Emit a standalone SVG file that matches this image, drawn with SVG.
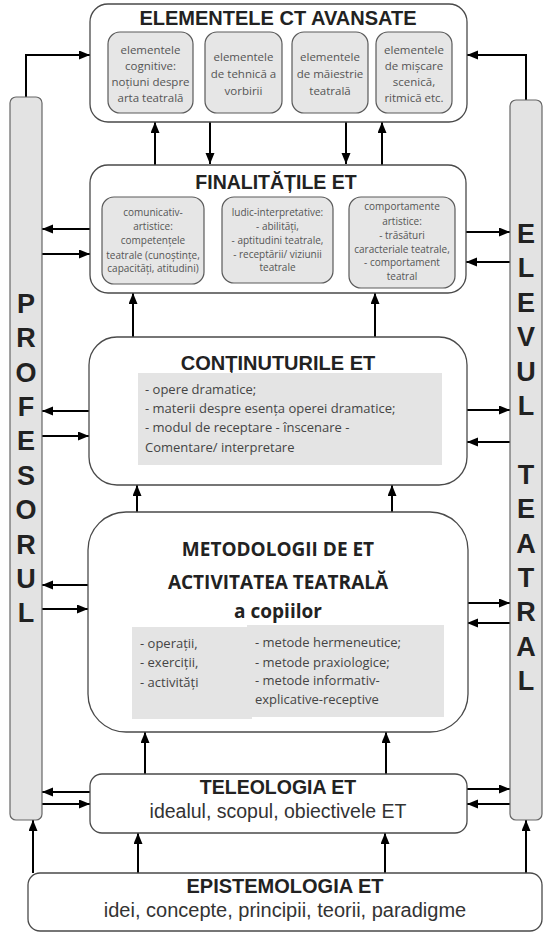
<svg xmlns="http://www.w3.org/2000/svg" width="546" height="933" viewBox="0 0 546 933">
<style>
.box{fill:#fff;stroke:#4a4a4a;stroke-width:1.3}
.ibox{fill:#e6e6e6;stroke:#5a5a5a;stroke-width:1.2}
.bar{fill:#e3e3e3;stroke:#666;stroke-width:1.2}
.gray{fill:#e4e4e4}
.ttl{font-family:"Liberation Sans",Arial,sans-serif;font-weight:bold;fill:#222;text-anchor:middle}
.sub{font-family:"Liberation Sans",Arial,sans-serif;fill:#333;text-anchor:middle}
.sm{font-family:"Open Sans","Noto Sans",sans-serif;fill:#555;text-anchor:middle}
.txt{font-family:"Open Sans","Noto Sans",sans-serif;fill:#444;font-size:13px}
.ob{font-family:"Open Sans","Noto Sans",sans-serif;font-weight:bold;fill:#222;text-anchor:middle;font-size:19px}
.let{font-family:"Liberation Sans",Arial,sans-serif;font-weight:bold;fill:#222;text-anchor:middle;font-size:27px}
.c{fill:none;stroke:#000;stroke-width:2}
.cs{fill:none;stroke:#000;stroke-width:1.5}
</style>
<defs>
<marker id="ah" markerUnits="userSpaceOnUse" markerWidth="12" markerHeight="10" refX="11" refY="4.5" orient="auto"><path d="M0,0 L11,4.5 L0,9 z" fill="#000"/></marker>
<marker id="as" markerUnits="userSpaceOnUse" markerWidth="10" markerHeight="8" refX="9" refY="3.5" orient="auto"><path d="M0,0 L9,3.5 L0,7 z" fill="#000"/></marker>
</defs>

<g id="connectors">
<path class="c" d="M26,97 V55 H90" marker-end="url(#ah)"/>
<path class="c" d="M526,100 V55 H467" marker-end="url(#ah)"/>
<path class="c" d="M155,165 V122" marker-end="url(#ah)"/>
<path class="c" d="M210,122 V164" marker-end="url(#ah)"/>
<path class="c" d="M346,122 V164" marker-end="url(#ah)"/>
<path class="c" d="M382,165 V122" marker-end="url(#ah)"/>
<path class="cs" d="M204,227 H222" marker-end="url(#as)"/>
<path class="cs" d="M222,240 H204" marker-end="url(#as)"/>
<path class="cs" d="M333,226 H349" marker-end="url(#as)"/>
<path class="cs" d="M349,241 H333" marker-end="url(#as)"/>
<path class="c" d="M133,337 V293" marker-end="url(#ah)"/>
<path class="c" d="M375,337 V293" marker-end="url(#ah)"/>
<path class="c" d="M137,512 V485" marker-end="url(#ah)"/>
<path class="c" d="M392,512 V485" marker-end="url(#ah)"/>
<path class="c" d="M145,774 V732" marker-end="url(#ah)"/>
<path class="c" d="M386,774 V732" marker-end="url(#ah)"/>
<path class="c" d="M33,873 V820" marker-end="url(#ah)"/>
<path class="c" d="M138,873 V833" marker-end="url(#ah)"/>
<path class="c" d="M385,873 V833" marker-end="url(#ah)"/>
<path class="c" d="M526,873 V820" marker-end="url(#ah)"/>
<path class="c" d="M90,229 H42" marker-end="url(#ah)"/>
<path class="c" d="M42,254 H90" marker-end="url(#ah)"/>
<path class="c" d="M90,411 H42" marker-end="url(#ah)"/>
<path class="c" d="M42,436 H89" marker-end="url(#ah)"/>
<path class="c" d="M89,585 H42" marker-end="url(#ah)"/>
<path class="c" d="M42,609 H88" marker-end="url(#ah)"/>
<path class="c" d="M90,792 H42" marker-end="url(#ah)"/>
<path class="c" d="M42,804 H90" marker-end="url(#ah)"/>
<path class="c" d="M466,232 H510" marker-end="url(#ah)"/>
<path class="c" d="M510,262 H466" marker-end="url(#ah)"/>
<path class="c" d="M467,410 H510" marker-end="url(#ah)"/>
<path class="c" d="M510,442 H467" marker-end="url(#ah)"/>
<path class="c" d="M467,603 H510" marker-end="url(#ah)"/>
<path class="c" d="M510,623 H467" marker-end="url(#ah)"/>
<path class="c" d="M467,789 H510" marker-end="url(#ah)"/>
<path class="c" d="M510,804 H467" marker-end="url(#ah)"/>
</g>

<g id="profesorul">
<rect class="bar" x="10" y="97" width="32" height="723" rx="6"/>
<text class="let" x="26" y="313">P</text>
<text class="let" x="26" y="347">R</text>
<text class="let" x="26" y="382">O</text>
<text class="let" x="26" y="416">F</text>
<text class="let" x="26" y="450">E</text>
<text class="let" x="26" y="485">S</text>
<text class="let" x="26" y="519">O</text>
<text class="let" x="26" y="554">R</text>
<text class="let" x="26" y="588">U</text>
<text class="let" x="26" y="622">L</text>
</g>

<g id="elevul">
<rect class="bar" x="510" y="100" width="32" height="720" rx="6"/>
<text class="let" x="526" y="243">E</text>
<text class="let" x="526" y="277">L</text>
<text class="let" x="526" y="312">E</text>
<text class="let" x="526" y="346">V</text>
<text class="let" x="526" y="381">U</text>
<text class="let" x="526" y="415">L</text>
<text class="let" x="526" y="484">T</text>
<text class="let" x="526" y="518">E</text>
<text class="let" x="526" y="553">A</text>
<text class="let" x="526" y="587">T</text>
<text class="let" x="526" y="621">R</text>
<text class="let" x="526" y="656">A</text>
<text class="let" x="526" y="690">L</text>
</g>

<g id="elementele">
<rect class="box" x="90" y="4" width="377" height="118" rx="18"/>
<text class="ttl" x="278" y="25" font-size="20">ELEMENTELE CT AVANSATE</text>
<rect class="ibox" x="108" y="32" width="85" height="81" rx="12"/>
<rect class="ibox" x="205" y="32" width="77" height="81" rx="12"/>
<rect class="ibox" x="292" y="32" width="76" height="81" rx="12"/>
<rect class="ibox" x="376" y="32" width="76" height="81" rx="12"/>
<g class="sm" font-size="11.5">
<text x="150.5" y="54">elementele</text>
<text x="150.5" y="70">cognitive:</text>
<text x="150.5" y="86">noțiuni despre</text>
<text x="150.5" y="102">arta teatrală</text>
<text x="243.5" y="61">elementele</text>
<text x="243.5" y="78">de tehnică a</text>
<text x="243.5" y="95">vorbirii</text>
<text x="330" y="61">elementele</text>
<text x="330" y="78">de măiestrie</text>
<text x="330" y="95">teatrală</text>
<text x="414" y="54">elementele</text>
<text x="414" y="70">de mișcare</text>
<text x="414" y="86">scenică,</text>
<text x="414" y="102">ritmică etc.</text>
</g>
</g>

<g id="finalitatile">
<rect class="box" x="90" y="165" width="376" height="128" rx="18"/>
<text class="ttl" x="276" y="189" font-size="19.5">FINALITĂȚILE ET</text>
<rect class="ibox" x="102" y="197" width="102" height="87" rx="12"/>
<rect class="ibox" x="222" y="197" width="111" height="86" rx="12"/>
<rect class="ibox" x="349" y="197" width="106" height="91" rx="12"/>
<g class="sm" font-size="10">
<text x="153" y="216">comunicativ-</text>
<text x="153" y="230">artistice:</text>
<text x="153" y="244">competențele</text>
<text x="153" y="259">teatrale (cunoștințe,</text>
<text x="153" y="272">capacități, atitudini)</text>
<text x="277.5" y="216">ludic-interpretative:</text>
<text x="277.5" y="230">- abilități,</text>
<text x="277.5" y="244">- aptitudini teatrale,</text>
<text x="277.5" y="258">- receptării/ viziunii</text>
<text x="277.5" y="271">teatrale</text>
<text x="402" y="210">comportamente</text>
<text x="402" y="225">artistice:</text>
<text x="402" y="239">- trăsături</text>
<text x="402" y="253">caracteriale teatrale,</text>
<text x="402" y="266">- comportament</text>
<text x="402" y="280">teatral</text>
</g>
</g>

<g id="continuturile">
<rect class="box" x="89" y="337" width="378" height="148" rx="28"/>
<text class="ttl" x="278" y="370" font-size="20">CONȚINUTURILE ET</text>
<rect class="gray" x="138" y="373" width="304" height="92"/>
<g class="txt">
<text x="145" y="394">- opere dramatice;</text>
<text x="145" y="413">- materii despre esența operei dramatice;</text>
<text x="145" y="432">- modul de receptare - înscenare -</text>
<text x="145" y="452">Comentare/ interpretare</text>
</g>
</g>

<g id="metodologii">
<rect class="box" x="88" y="512" width="380" height="220" rx="38"/>
<text class="ob" x="278" y="556">METODOLOGII DE ET</text>
<text class="ob" x="278" y="589">ACTIVITATEA TEATRALĂ</text>
<text class="ob" x="278" y="618">a copiilor</text>
<rect class="gray" x="132" y="627" width="120" height="92"/>
<rect class="gray" x="247" y="625" width="197" height="92"/>
<g class="txt">
<text x="140" y="648">- operații,</text>
<text x="140" y="667">- exerciții,</text>
<text x="140" y="687">- activități</text>
<text x="255" y="647">- metode hermeneutice;</text>
<text x="255" y="667">- metode praxiologice;</text>
<text x="255" y="685">- metode informativ-</text>
<text x="255" y="704">explicative-receptive</text>
</g>
</g>

<g id="teleologia">
<rect class="box" x="90" y="774" width="377" height="59" rx="12"/>
<text class="ttl" x="278" y="794" font-size="19.5">TELEOLOGIA ET</text>
<text class="sub" x="278" y="818" font-size="19.5">idealul, scopul, obiectivele ET</text>
</g>

<g id="epistemologia">
<rect class="box" x="28" y="873" width="514" height="58" rx="12"/>
<text class="ttl" x="285" y="893" font-size="20">EPISTEMOLOGIA ET</text>
<text class="sub" x="285" y="917" font-size="20">idei, concepte, principii, teorii, paradigme</text>
</g>
</svg>
